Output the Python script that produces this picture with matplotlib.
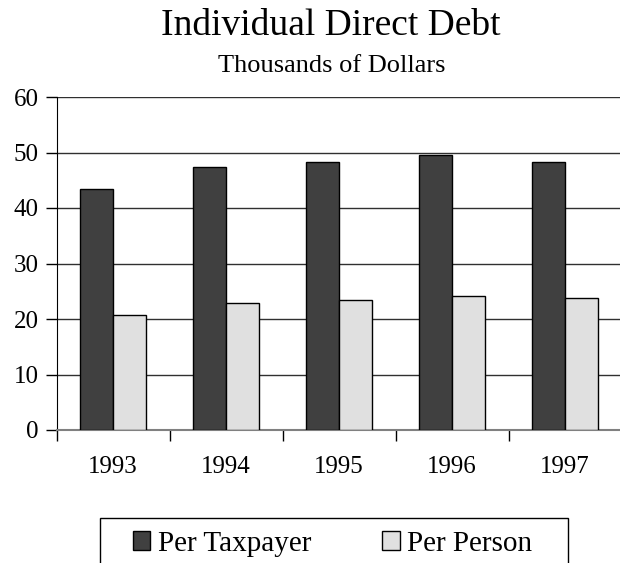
import numpy as np
import matplotlib
matplotlib.use('Agg')
import matplotlib.pyplot as plt
import matplotlib.patches as patches

years = ['1993', '1994', '1995', '1996', '1997']
per_taxpayer = [43.5, 47.3, 48.3, 49.5, 48.2]
per_person = [20.8, 22.8, 23.5, 24.1, 23.7]
y_ticks = [0, 10, 20, 30, 40, 50, 60]

plt.rcParams['font.family'] = ['Liberation Serif', 'DejaVu Serif']

W, H = 620, 563
fig = plt.figure(figsize=(W / 100, H / 100), dpi=100)
# axes in pixel terms: left 56, right 621, top 97, bottom 430
ax = fig.add_axes([56.5 / W, 1 - 430 / H, 565 / W, 333 / H])

x = np.arange(len(years))
bw = 0.288
ax.bar(x - bw / 2, per_taxpayer, bw, color='#404040', edgecolor='black', linewidth=1, zorder=3)
ax.bar(x + bw / 2, per_person, bw, color='#e0e0e0', edgecolor='black', linewidth=1, zorder=3)

ax.set_xlim(-0.5, len(years) - 0.5)
ax.set_ylim(0, 60)
ax.set_yticks(y_ticks)
ax.set_yticklabels([str(v) for v in y_ticks], fontsize=18)
ax.yaxis.grid(True, color='#303030', linewidth=1)
ax.set_axisbelow(True)

ax.set_xticks(x)
ax.set_xticklabels(years, fontsize=18)
ax.tick_params(axis='x', length=0, pad=19)
ax.set_xticks(np.arange(len(years) + 1) - 0.5, minor=True)
ax.tick_params(axis='x', which='minor', length=8, width=1, direction='out', color='black')
ax.tick_params(axis='y', length=8, width=1, direction='out', pad=5)

for s in ['top', 'right']:
    ax.spines[s].set_visible(False)
ax.spines['left'].set_color('black')
ax.spines['bottom'].set_color('#808080')
ax.spines['bottom'].set_linewidth(1.5)

fig.text(331 / W, 1 - 35 / H, 'Individual Direct Debt', ha='center', va='baseline', fontsize=27)
fig.text(332 / W, 1 - 72 / H, 'Thousands of Dollars', ha='center', va='baseline', fontsize=19)

# legend box, runs off the bottom edge
fig.patches.append(patches.Rectangle((100 / W, -0.05), 468 / W, 0.05 + (H - 518) / H,
                                     transform=fig.transFigure, facecolor='none',
                                     edgecolor='black', linewidth=1))
h1 = patches.Patch(facecolor='#404040', edgecolor='black')
h2 = patches.Patch(facecolor='#e0e0e0', edgecolor='black')
fig.legend([h1, h2], ['Per Taxpayer', 'Per Person'], loc='center',
           bbox_to_anchor=(332.5 / W, 1 - 544 / H), ncol=2, frameon=False,
           fontsize=21, handlelength=0.6, handleheight=0.6, handletextpad=0.25,
           columnspacing=2.45)

fig.savefig('out.png', dpi=100)
